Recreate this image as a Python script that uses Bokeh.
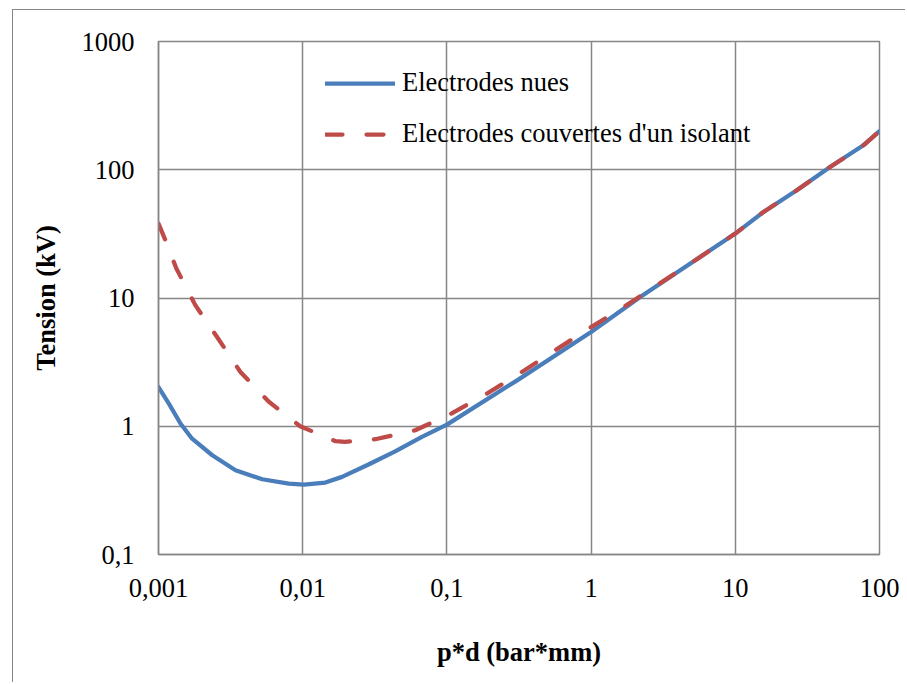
from bokeh.plotting import figure
from bokeh.models import FixedTicker, Legend, LegendItem, InlineStyleSheet
from bokeh.embed import file_html
from bokeh.resources import INLINE

# Data
x_nues = [0.001, 0.00118, 0.00142, 0.00171, 0.00236, 0.00342, 0.00524, 0.0080, 0.0102,
          0.01436, 0.01875, 0.0286, 0.0438, 0.0671, 0.1, 0.307, 1, 2.19, 10, 15.7,
          26.7, 45.4, 77.3, 100]
y_nues = [2.02, 1.50, 1.05, 0.80, 0.594, 0.454, 0.386, 0.357, 0.351,
          0.364, 0.403, 0.503, 0.638, 0.826, 1.03, 2.28, 5.44, 10.2, 31.8, 46.9,
          69.2, 105, 155, 200]

x_isol = [0.001, 0.00112, 0.00133, 0.0018, 0.00259, 0.0037, 0.0058, 0.0096, 0.0169,
          0.0197, 0.0318, 0.0603, 0.108, 0.19, 0.331, 0.566, 0.964, 1.68, 2.87,
          4.89, 10, 15.7, 26.7, 45.4, 77.3, 100]
y_isol = [38, 28, 17, 8.8, 4.83, 2.65, 1.56, 1.0, 0.764,
          0.755, 0.792, 0.93, 1.26, 1.80, 2.65, 3.92, 5.78, 8.5, 12.6,
          18.6, 31.8, 46.9, 69.2, 105, 155, 200]

x_ticks = [0.001, 0.01, 0.1, 1, 10, 100]
x_tick_labels = ["0,001", "0,01", "0,1", "1", "10", "100"]
y_ticks = [0.1, 1, 10, 100, 1000]
y_tick_labels = ["0,1", "1", "10", "100", "1000"]

series_names = ["Electrodes nues", "Electrodes couvertes d'un isolant"]
x_title = "p*d (bar*mm)"
y_title = "Tension (kV)"

GRID = "#868686"
BLUE = "#4A7EBB"
RED = "#BE4B48"
FONT = "Liberation Serif"
FSIZE = "26.5px"

p = figure(width=907, height=684, x_axis_type="log", y_axis_type="log",
           x_range=(0.001, 100), y_range=(0.1, 1000),
           output_backend="svg", toolbar_location=None,
           min_border_left=158, min_border_right=28,
           min_border_top=41, min_border_bottom=130)
p.background_fill_color = "white"
p.border_fill_color = "white"
p.outline_line_color = GRID
p.outline_line_width = 1.5

for ax in (p.xaxis[0], p.yaxis[0]):
    ax.major_tick_line_color = None
    ax.minor_tick_line_color = None
    ax.axis_line_color = GRID
    ax.axis_line_width = 1.5
    ax.major_label_text_font = FONT
    ax.major_label_text_font_size = FSIZE
    ax.major_label_text_color = "black"
    ax.axis_label_text_font = FONT
    ax.axis_label_text_font_size = FSIZE
    ax.axis_label_text_font_style = "bold"
    ax.axis_label_text_color = "black"

p.xaxis.ticker = FixedTicker(ticks=x_ticks, minor_ticks=[])
p.yaxis.ticker = FixedTicker(ticks=y_ticks, minor_ticks=[])
p.xaxis.major_label_overrides = dict(zip(x_ticks, x_tick_labels))
p.yaxis.major_label_overrides = dict(zip(y_ticks, y_tick_labels))
p.xaxis.major_label_standoff = 18
p.yaxis.major_label_standoff = 18
p.xaxis.axis_label = x_title
p.yaxis.axis_label = y_title
p.xaxis.axis_label_standoff = 37
p.yaxis.axis_label_standoff = 18

p.xgrid.grid_line_color = GRID
p.ygrid.grid_line_color = GRID
p.xgrid.grid_line_width = 1.5
p.ygrid.grid_line_width = 1.5
p.xgrid.minor_grid_line_color = None
p.ygrid.minor_grid_line_color = None

r1 = p.line(x_nues, y_nues, line_color=BLUE, line_width=4.25, line_cap="round", line_join="round")
r2 = p.line(x_isol, y_isol, line_color=RED, line_width=4.25, line_cap="round",
            line_join="round", line_dash="17 24")

legend = Legend(items=[LegendItem(label=series_names[0], renderers=[r1]),
                       LegendItem(label=series_names[1], renderers=[r2])],
                location=(167, 405), orientation="vertical")
legend.background_fill_alpha = 0
legend.border_line_color = None
legend.padding = 0
legend.margin = 0
legend.spacing = 20
legend.glyph_width = 70
legend.glyph_height = 30
legend.label_height = 30
legend.label_standoff = 7
legend.label_text_font = FONT
legend.label_text_font_size = FSIZE
legend.label_text_color = "black"
p.add_layout(legend, "center")

# outer chart-area border (left and top edges visible in the reference)
p.stylesheets = [InlineStyleSheet(css=(
    ":host::after { content: ''; position: absolute; left: 12px; top: 9px; "
    "width: 893px; height: 673px; border-left: 1.5px solid #868686; "
    "border-top: 1.5px solid #868686; pointer-events: none; box-sizing: border-box; }"
))]

open("out.html", "w").write(file_html(p, INLINE))
